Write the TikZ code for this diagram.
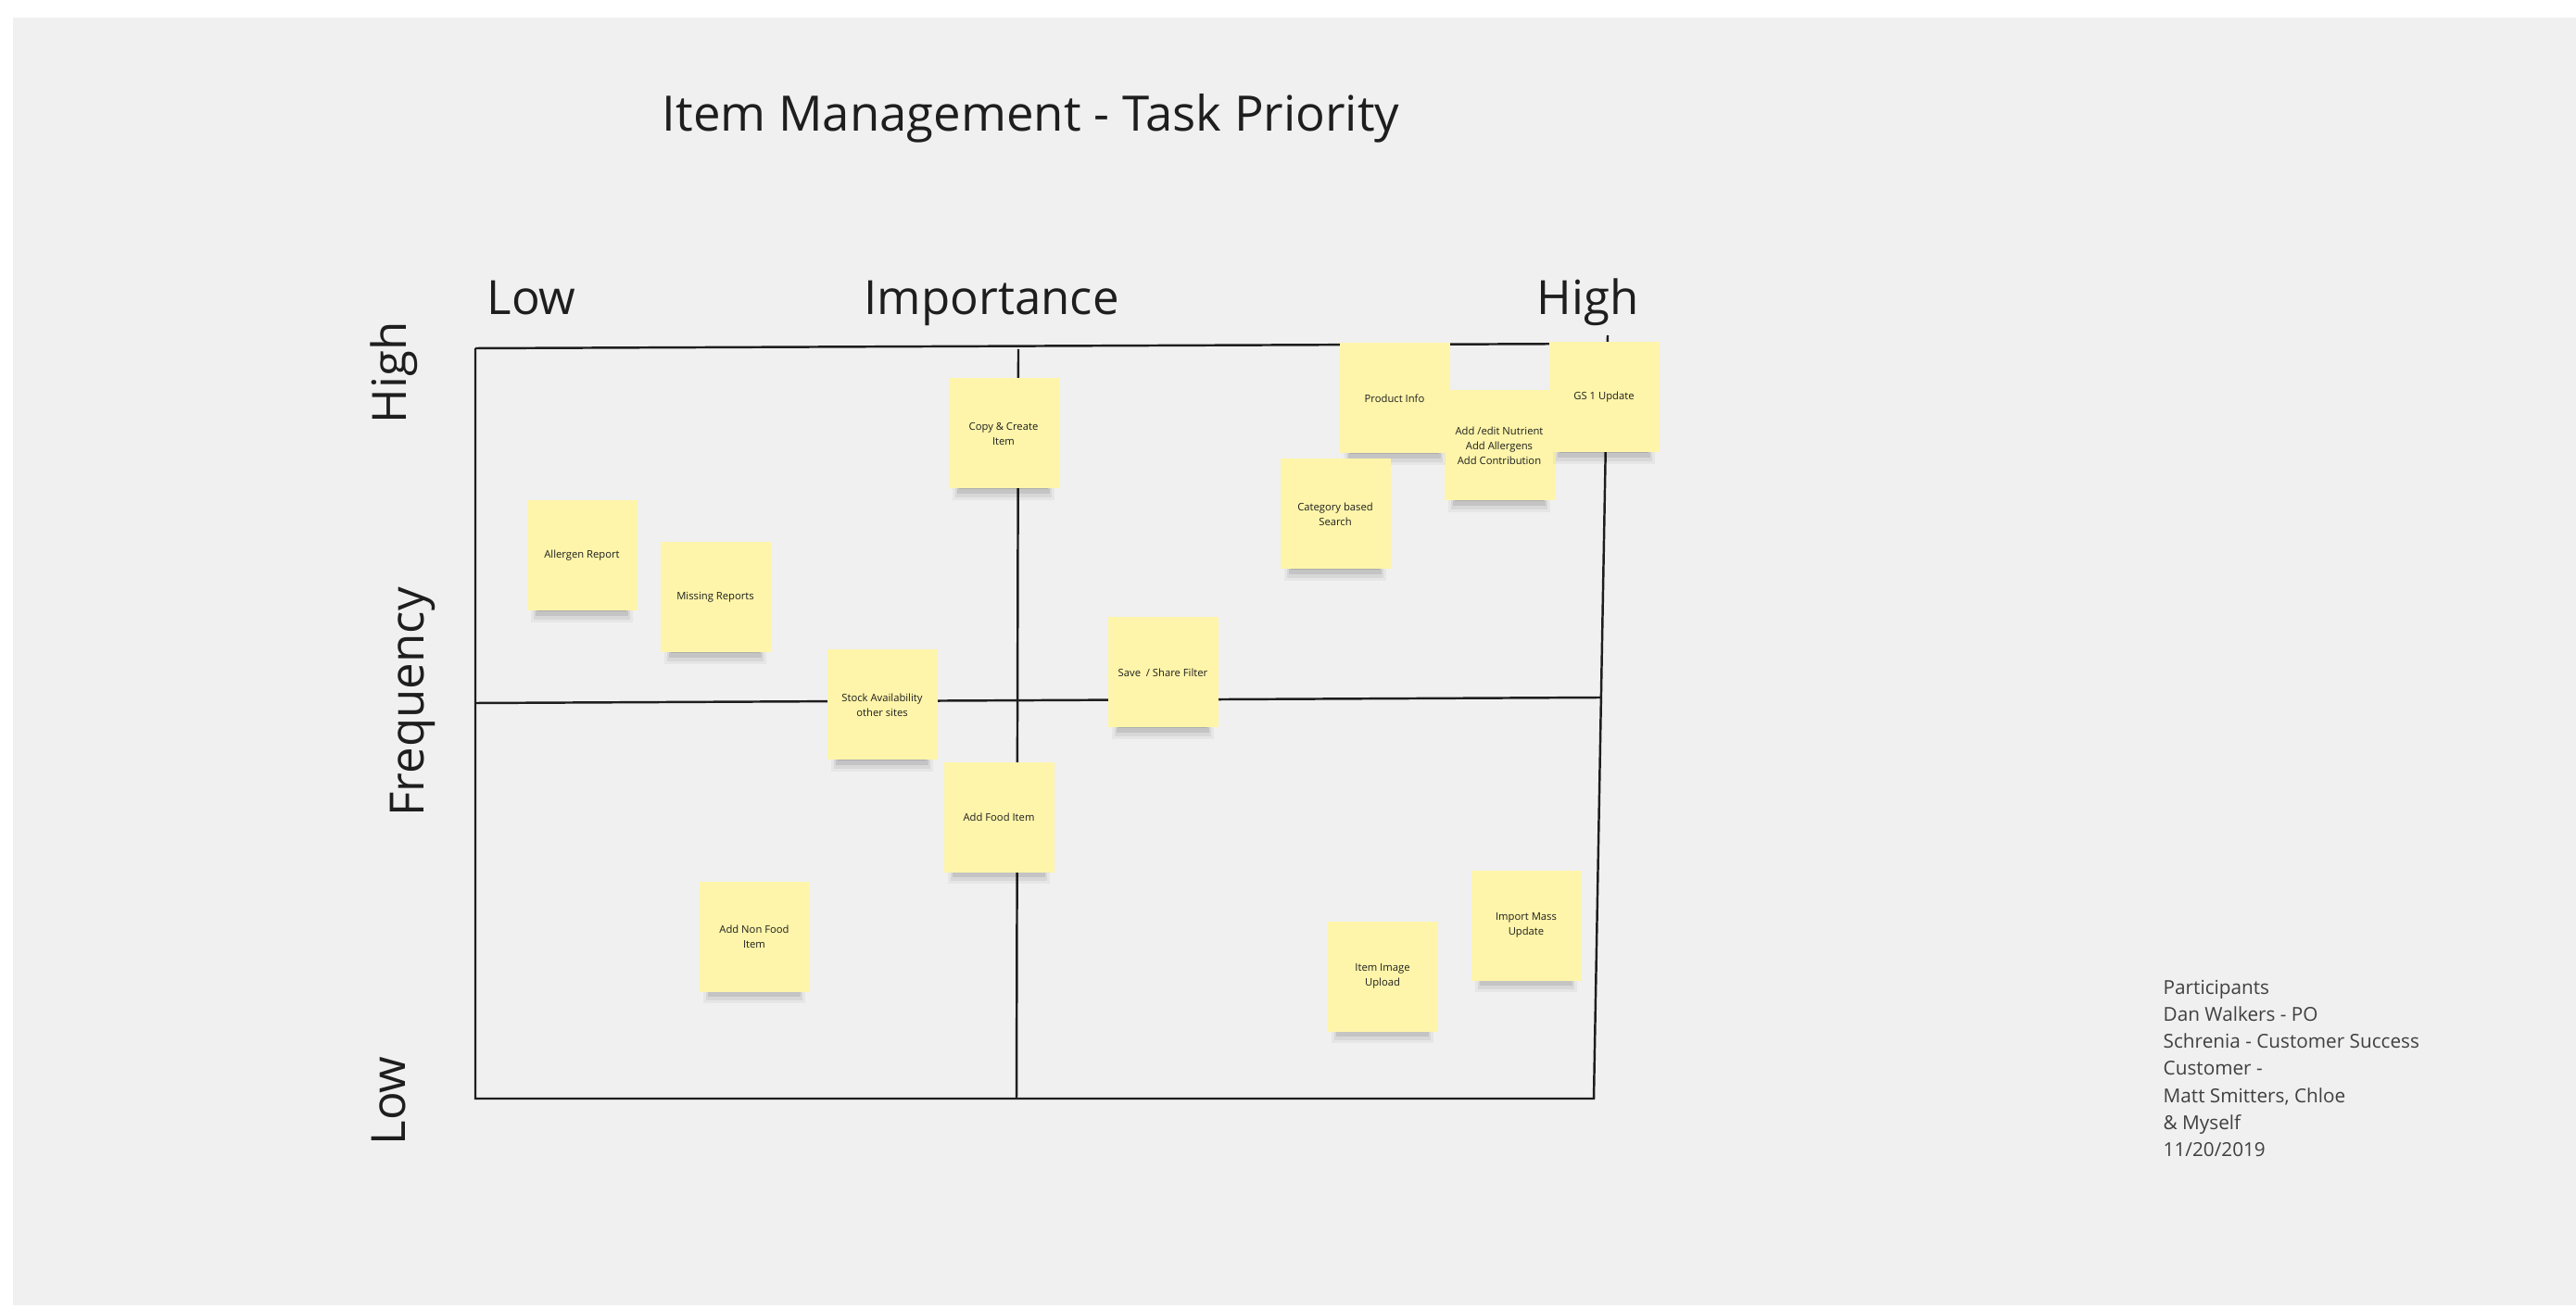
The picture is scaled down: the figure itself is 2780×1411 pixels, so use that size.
\documentclass[tikz,border=0pt]{standalone}
\usepackage{fontspec}
\setmainfont{Open Sans}
\usetikzlibrary{shadows}
\definecolor{board}{HTML}{F0F0F0}
\definecolor{ink}{HTML}{1E1E1E}
\definecolor{notefill}{HTML}{FEF5AA}
\tikzset{grid line/.style={line width=0.7pt, draw=ink}}
\tikzset{axis label/.style={anchor=base west, inner sep=0pt, text=ink, font=\fontsize{14.5pt}{17pt}\selectfont}}
\tikzset{note/.style={rectangle, minimum width=11.9mm, minimum height=11.9mm, inner sep=0pt, align=center,
    fill=notefill, text=ink, font=\fontsize{3.2pt}{4.55pt}\selectfont,
    general shadow={fill=black, fill opacity=.04, shadow scale=.92, shadow yshift=-1.9mm},
    general shadow={fill=black, fill opacity=.06, shadow scale=.88, shadow yshift=-1.85mm},
    general shadow={fill=black, fill opacity=.09, shadow scale=.84, shadow yshift=-1.75mm},
    general shadow={fill=black, fill opacity=.12, shadow scale=.80, shadow yshift=-1.6mm}}}

\begin{document}
\begin{tikzpicture}[x=0.1mm, y=-0.1mm]
  \useasboundingbox (0,0) rectangle (2780,1411);
  \fill[white] (0,0) rectangle (2780,1411);
  \fill[board] (14,19) rectangle (2780,1409);

  % title and axis labels
  \node[anchor=base west, inner sep=0pt, text=ink, font=\fontsize{15pt}{18pt}\selectfont] (title) at (714,142) {Item Management - Task Priority};
  \node[axis label] (implow) at (525,340) {Low};
  \node[axis label] (imp) at (932,340) {Importance};
  \node[axis label] (imphigh) at (1658,340) {High};
  \node[axis label, rotate=90] (freqhigh) at (438,458) {High};
  \node[axis label, rotate=90] (freq) at (457,882) {Frequency};
  \node[axis label, rotate=90] (freqlow) at (437,1237) {Low};

  % grid
  \coordinate (tl) at (513,376);
  \coordinate (tr) at (1735,371);
  \coordinate (rtop) at (1735,362);
  \coordinate (bl) at (513,1186);
  \coordinate (br) at (1720,1186);
  \coordinate (ml) at (513,759);
  \coordinate (mr) at (1727,753);
  \coordinate (mt) at (1099,377);
  \coordinate (mb) at (1097,1186);
  \draw[grid line] (tl) -- (tr);
  \draw[grid line] (tl) -- (bl) -- (br) -- (rtop);
  \draw[grid line] (ml) -- (mr);
  \draw[grid line] (mt) -- (mb);

  % sticky notes
  \node[note] (copy) at (1083,468) {Copy \& Create\\Item};
  \node[note] (allergen) at (628,600) {Allergen Report};
  \node[note] (missing) at (772,645) {Missing Reports};
  \node[note] (stock) at (952,761) {Stock Availability\\other sites};
  \node[note] (nutrient) at (1618,481) {Add /edit Nutrient\\Add Allergens\\Add Contribution};
  \node[note] (product) at (1505,430) {Product Info};
  \node[note] (gs) at (1731,429) {GS 1 Update};
  \node[note] (category) at (1441,555) {Category based\\Search};
  \node[note] (save) at (1255,726) {Save~ / Share Filter};
  \node[note] (food) at (1078,882) {Add Food Item};
  \node[note] (nonfood) at (814,1011) {Add Non Food\\Item};
  \node[note] (image) at (1492,1054) {Item Image\\Upload};
  \node[note] (mass) at (1647,999) {Import Mass\\Update};

  % participants
  \foreach \line [count=\i] in {Participants, Dan Walkers - PO, Schrenia - Customer Success, Customer -, {Matt Smitters, Chloe}, \& Myself, 11/20/2019}
    \node[anchor=base west, inner sep=0pt, text=ink!85, font=\fontsize{5.9pt}{7pt}\selectfont] (part\i) at (2334,{1073+29.3*(\i-1)}) {\line};
\end{tikzpicture}
\end{document}
